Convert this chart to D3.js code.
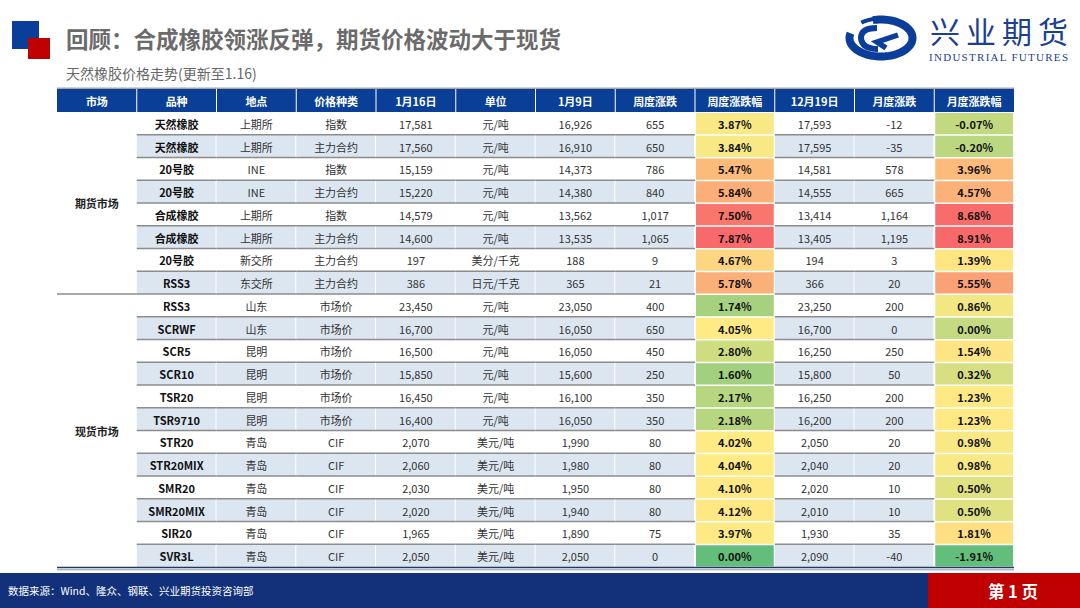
<!DOCTYPE html>
<html>
<head>
<meta charset="utf-8">
<script src="https://cdn.jsdelivr.net/npm/d3@7"></script>
<style>
  html, body { margin: 0; padding: 0; background: #ffffff; }
  svg { display: block; }
</style>
</head>
<body>
<svg id="chart" width="1080" height="608"></svg>
<script>
// ---------------- data ----------------
const title = "回顾：合成橡胶领涨反弹，期货价格波动大于现货";
const subtitle = "天然橡胶价格走势(更新至1.16)";
const source = "数据来源：Wind、隆众、钢联、兴业期货投资咨询部";
const pageLabel = "第 1 页";
const brandCn = "兴业期货";
const brandEn = "INDUSTRIAL FUTURES";

const columns = ["市场","品种","地点","价格种类","1月16日","单位","1月9日","周度涨跌","周度涨跌幅","12月19日","月度涨跌","月度涨跌幅"];
const markets = ["期货市场","现货市场"];
const marketRowCounts = [8, 12];

const varieties = ["天然橡胶","天然橡胶","20号胶","20号胶","合成橡胶","合成橡胶","20号胶","RSS3",
  "RSS3","SCRWF","SCR5","SCR10","TSR20","TSR9710","STR20","STR20MIX","SMR20","SMR20MIX","SIR20","SVR3L"];
const locations = ["上期所","上期所","INE","INE","上期所","上期所","新交所","东交所",
  "山东","山东","昆明","昆明","昆明","昆明","青岛","青岛","青岛","青岛","青岛","青岛"];
const priceTypes = ["指数","主力合约","指数","主力合约","指数","主力合约","主力合约","主力合约",
  "市场价","市场价","市场价","市场价","市场价","市场价","CIF","CIF","CIF","CIF","CIF","CIF"];
const jan16 = [17581,17560,15159,15220,14579,14600,197,386,23450,16700,16500,15850,16450,16400,2070,2060,2030,2020,1965,2050];
const units = ["元/吨","元/吨","元/吨","元/吨","元/吨","元/吨","美分/千克","日元/千克",
  "元/吨","元/吨","元/吨","元/吨","元/吨","元/吨","美元/吨","美元/吨","美元/吨","美元/吨","美元/吨","美元/吨"];
const jan9 = [16926,16910,14373,14380,13562,13535,188,365,23050,16050,16050,15600,16100,16050,1990,1980,1950,1940,1890,2050];
const weekChg = [655,650,786,840,1017,1065,9,21,400,650,450,250,350,350,80,80,80,80,75,0];
const weekPct = [3.87,3.84,5.47,5.84,7.50,7.87,4.67,5.78,1.74,4.05,2.80,1.60,2.17,2.18,4.02,4.04,4.10,4.12,3.97,0.00];
const dec19 = [17593,17595,14581,14555,13414,13405,194,366,23250,16700,16250,15800,16250,16200,2050,2040,2020,2010,1930,2090];
const monthChg = [-12,-35,578,665,1164,1195,3,20,200,0,250,50,200,200,20,20,10,10,35,-40];
const monthPct = [-0.07,-0.20,3.96,4.57,8.68,8.91,1.39,5.55,0.86,0.00,1.54,0.32,1.23,1.23,0.98,0.98,0.50,0.50,1.81,-1.91];

// ---------------- layout ----------------
const FONT = "'Noto Sans CJK SC','Noto Sans',sans-serif";
const svg = d3.select("#chart");
const nRows = varieties.length;

const x = d3.scaleBand().domain(columns).range([57, 1014]);
const y = d3.scaleBand().domain(d3.range(nRows)).range([112, 567]);
const headerTop = 89, headerBottom = 112;
const bw = x.bandwidth(), bh = y.bandwidth();

// conditional-format colour scales (Excel 3-colour scale: min / median / max)
function colorScale(vals) {
  return d3.scaleLinear()
    .domain([d3.min(vals), d3.median(vals), d3.max(vals)])
    .range(["#63BE7B", "#FFEB84", "#F8696B"])
    .interpolate(d3.interpolateRgb);
}
const weekColor = colorScale(weekPct);
const monthColor = colorScale(monthPct);

const locale = d3.formatLocale({ decimal: ".", thousands: ",", grouping: [3], currency: ["", ""], minus: "-" });
const fmtNum = locale.format(",");
const fmtPct = v => locale.format(".2f")(v) + "%";

// row values per column
const rows = d3.range(nRows).map(i => ({
  "品种": varieties[i], "地点": locations[i], "价格种类": priceTypes[i],
  "1月16日": fmtNum(jan16[i]), "单位": units[i], "1月9日": fmtNum(jan9[i]),
  "周度涨跌": fmtNum(weekChg[i]), "周度涨跌幅": fmtPct(weekPct[i]),
  "12月19日": fmtNum(dec19[i]), "月度涨跌": fmtNum(monthChg[i]), "月度涨跌幅": fmtPct(monthPct[i])
}));
const colored = { "周度涨跌幅": i => weekColor(weekPct[i]), "月度涨跌幅": i => monthColor(monthPct[i]) };
const boldCols = new Set(["品种","周度涨跌幅","月度涨跌幅"]);
const dataCols = columns.slice(1);

// ---------------- top banner ----------------
svg.append("rect").attr("x", 12).attr("y", 21).attr("width", 27).attr("height", 28).attr("fill", "#0b3d9b");
svg.append("rect").attr("x", 28).attr("y", 38).attr("width", 22).attr("height", 21).attr("fill", "#c00000");

svg.append("text").attr("x", 66).attr("y", 38).attr("dominant-baseline", "central")
  .attr("font-family", FONT).attr("font-weight", "bold").attr("font-size", 22.5)
  .attr("fill", "#6b6b6b").text(title);

svg.append("text").attr("x", 66).attr("y", 73).attr("dominant-baseline", "central")
  .attr("font-family", FONT).attr("font-size", 14).attr("fill", "#666666").text(subtitle);

// logo swirl
const lg = svg.append("g").attr("transform", "translate(881,38)");
const logoBlue = "#0b3d9b";
function ellArc(rx, ry, a0, a1) {
  const p = d3.path();
  const steps = 80;
  for (let k = 0; k <= steps; k++) {
    const t = (a0 + (a1 - a0) * k / steps) * Math.PI / 180;
    const px = rx * Math.cos(t), py = ry * Math.sin(t);
    if (k === 0) p.moveTo(px, py); else p.lineTo(px, py);
  }
  return p.toString();
}
// outer ring, open at upper-left
lg.append("path").attr("d", ellArc(31.5, 18.5, 255, 555)).attr("fill", "none")
  .attr("stroke", logoBlue).attr("stroke-width", 8);
// tapering tip at the top
lg.append("path").attr("d", ellArc(32, 19.5, 232, 256)).attr("fill", "none")
  .attr("stroke", logoBlue).attr("stroke-width", 4);
// inner curl
lg.append("path").attr("d", "M-4,-10 Q-20,-10 -20,0 Q-19,11 -3,11")
  .attr("fill", "none").attr("stroke", logoBlue).attr("stroke-width", 6);
// inner chevron
lg.append("path").attr("d", "M17,-3 L-4,4 L5,10")
  .attr("fill", "none").attr("stroke", logoBlue).attr("stroke-width", 5.5).attr("stroke-linejoin", "miter");

svg.append("text").attr("x", 930).attr("y", 30).attr("dominant-baseline", "central")
  .attr("font-family", FONT).attr("font-size", 30).attr("fill", "#1b3f94")
  .attr("textLength", 138).attr("lengthAdjust", "spacing").text(brandCn);
svg.append("text").attr("x", 929).attr("y", 57).attr("dominant-baseline", "central")
  .attr("font-family", "'Liberation Serif','DejaVu Serif',serif").attr("font-size", 11).attr("fill", "#1b3f94")
  .attr("textLength", 139).attr("lengthAdjust", "spacing").text(brandEn);

// ---------------- table ----------------
const tbl = svg.append("g");

// top grey rule
tbl.append("line").attr("x1", 57).attr("x2", 1014).attr("y1", headerTop - 0.5).attr("y2", headerTop - 0.5)
  .attr("stroke", "#a6a6a6").attr("stroke-width", 2);

// header
tbl.append("rect").attr("x", 57).attr("y", headerTop).attr("width", 1014 - 57).attr("height", headerBottom - headerTop)
  .attr("fill", "#0a3f97");
tbl.selectAll(".hsep").data(columns.slice(1)).enter().append("line")
  .attr("x1", d => x(d)).attr("x2", d => x(d)).attr("y1", headerTop).attr("y2", headerBottom)
  .attr("stroke", "#ffffff").attr("stroke-width", 1);
tbl.selectAll(".htxt").data(columns).enter().append("text")
  .attr("x", d => x(d) + bw / 2).attr("y", (headerTop + headerBottom) / 2 + 0.5)
  .attr("text-anchor", "middle").attr("dominant-baseline", "central")
  .attr("font-family", FONT).attr("font-weight", "bold").attr("font-size", 11)
  .attr("fill", "#ffffff").text(d => d);

// row backgrounds (non-coloured columns)
const rowG = tbl.selectAll(".row").data(rows).enter().append("g");
rowG.each(function(r, i) {
  const g = d3.select(this);
  const bg = i % 2 === 1 ? "#dce6f1" : "#ffffff";
  dataCols.forEach(c => {
    if (colored[c]) return;
    g.append("rect").attr("x", x(c)).attr("y", y(i)).attr("width", bw - 1).attr("height", bh)
      .attr("fill", bg);
  });
});

// grey row separators (skip coloured columns)
d3.range(1, nRows).forEach(i => {
  dataCols.forEach(c => {
    if (colored[c]) return;
    tbl.append("line").attr("x1", x(c)).attr("x2", x(c) + bw).attr("y1", y(i)).attr("y2", y(i))
      .attr("stroke", "#8c8c8c").attr("stroke-width", 1.6);
  });
});
// market divider
const divIdx = marketRowCounts[0];
tbl.append("line").attr("x1", 57).attr("x2", x("品种")).attr("y1", y(divIdx)).attr("y2", y(divIdx))
  .attr("stroke", "#8c8c8c").attr("stroke-width", 1.6);

// coloured cells
rowG.each(function(r, i) {
  const g = d3.select(this);
  Object.keys(colored).forEach(c => {
    g.append("rect").attr("x", x(c) + 1).attr("y", y(i) + 1).attr("width", bw - 2).attr("height", bh - 1.5)
      .attr("fill", colored[c](i));
  });
});

// cell text
rowG.each(function(r, i) {
  const g = d3.select(this);
  dataCols.forEach(c => {
    g.append("text").attr("x", x(c) + bw / 2).attr("y", y(i) + bh / 2 + 0.5)
      .attr("text-anchor", "middle").attr("dominant-baseline", "central")
      .attr("font-family", FONT).attr("font-size", 11)
      .attr("font-weight", boldCols.has(c) ? "bold" : "normal")
      .attr("fill", boldCols.has(c) ? "#111111" : "#333333")
      .text(r[c]);
  });
});

// market labels
let start = 0;
markets.forEach((m, k) => {
  const n = marketRowCounts[k];
  const y0 = y(start), y1 = y(start + n - 1) + bh;
  tbl.append("text").attr("x", x("市场") + bw / 2).attr("y", (y0 + y1) / 2)
    .attr("text-anchor", "middle").attr("dominant-baseline", "central")
    .attr("font-family", FONT).attr("font-size", 11).attr("font-weight", "bold")
    .attr("fill", "#222222").text(m);
  start += n;
});

// bottom double rule
tbl.append("line").attr("x1", 57).attr("x2", 1014).attr("y1", 567.5).attr("y2", 567.5)
  .attr("stroke", "#1f3864").attr("stroke-width", 1.6);
tbl.append("line").attr("x1", 57).attr("x2", 1014).attr("y1", 569.8).attr("y2", 569.8)
  .attr("stroke", "#8497b0").attr("stroke-width", 1);

// ---------------- footer ----------------
svg.append("rect").attr("x", 0).attr("y", 573).attr("width", 1080).attr("height", 35).attr("fill", "#12317a");
svg.append("rect").attr("x", 928).attr("y", 573).attr("width", 152).attr("height", 35).attr("fill", "#c00000");
svg.append("text").attr("x", 8).attr("y", 590.5).attr("dominant-baseline", "central")
  .attr("font-family", FONT).attr("font-size", 10.5).attr("fill", "#ffffff").text(source);
svg.append("text").attr("x", 1013).attr("y", 590.5).attr("text-anchor", "middle").attr("dominant-baseline", "central")
  .attr("font-family", FONT).attr("font-size", 16.5).attr("font-weight", "bold").attr("fill", "#ffffff").text(pageLabel);
</script>
</body>
</html>
